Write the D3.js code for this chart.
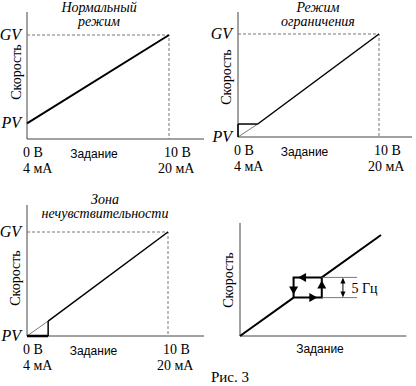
<!DOCTYPE html>
<html>
<head>
<meta charset="utf-8">
<script src="https://cdn.jsdelivr.net/npm/d3@7"></script>
<style>
  body { margin: 0; background: #fff; }
  svg { display: block; }
</style>
</head>
<body>
<svg id="chart" width="416" height="386"></svg>
<script>
// data, in units of setting (0..10 V) and speed (% of GV)
const xLabelsTop = ["0 В", "10 В"];
const xLabelsBottom = ["4 мА", "20 мА"];
const yLabels = ["PV", "GV"];
const titles = [["Нормальный", "режим"], ["Режим", "ограничения"], ["Зона", "нечувствительности"]];

const normalLine = [[0, 15], [10, 100]];

const limitThin = [[0, 0], [1.4, 12.6]];
const limitLine = [[1.4, 12.6], [10, 100]];
const limitBox = [[0, 12.6], [1.4, 12.6]];

const deadThin = [[0, 0], [1.5, 14.4]];
const deadLine = [[1.5, 14.4], [10, 100]];
const deadFloor = [[0, 0], [1.5, 0]];
const deadStep = [[1.5, 0], [1.5, 14.4]];

// hysteresis panel, setting and speed both 0..100
const hystLow = [[0, 0], [38, 38]];
const hystHigh = [[58, 58], [100, 100]];
const hystLoop = [[58, 58], [38, 58], [38, 38], [58, 38], [58, 58]];
const hystStep = "5 Гц";

const SERIF = "'Liberation Serif', 'DejaVu Serif', serif";
const SANS = "'Liberation Sans', Arial, sans-serif";

const svg = d3.select("#chart");

function panel(x0, x10, xEnd, y0, yGV, yTop) {
  let g = svg.append("g");
  let x = d3.scaleLinear().domain([0, 10]).range([x0, x10]);
  let y = d3.scaleLinear().domain([0, 100]).range([y0, yGV]);
  // axes
  g.append("line").attr("x1", x0).attr("x2", xEnd).attr("y1", y0).attr("y2", y0)
    .attr("stroke", "#444").attr("stroke-width", 1);
  g.append("line").attr("x1", x0).attr("x2", x0).attr("y1", y0).attr("y2", yTop)
    .attr("stroke", "#444").attr("stroke-width", 1);
  // dashed guides
  g.append("path")
    .attr("d", `M${x(0)},${y(100)}H${x(10)}V${y(0)}`)
    .attr("fill", "none").attr("stroke", "#777").attr("stroke-width", 1)
    .attr("stroke-dasharray", "3,2");
  return {g, x, y};
}

function line(p, data, w, col) {
  let gen = d3.line().x(d => p.x(d[0])).y(d => p.y(d[1]));
  p.g.append("path").attr("d", gen(data))
    .attr("fill", "none").attr("stroke", col || "#000").attr("stroke-width", w);
}

function labels(p, tIdx, tx, tyTop, sx, sy, pvY) {
  let g = p.g;
  let x0 = p.x(0), x10 = p.x(10), y0 = p.y(0);
  // y labels
  g.append("text").attr("font-family", SERIF).attr("font-style", "italic").attr("font-size", 16)
    .attr("text-anchor", "end").attr("x", x0 - 6).attr("y", pvY + 5).text(yLabels[0]);
  g.append("text").attr("font-family", SERIF).attr("font-style", "italic").attr("font-size", 16)
    .attr("text-anchor", "end").attr("x", x0 - 6).attr("y", p.y(100) + 5).text(yLabels[1]);
  // x labels
  [0, 1].forEach(i => {
    let xx = i == 0 ? x0 - 4 : x10 - 5;
    g.append("text").attr("font-family", SERIF).attr("font-size", 14)
      .attr("x", xx).attr("y", y0 + 18).text(xLabelsTop[i]);
    g.append("text").attr("font-family", SERIF).attr("font-size", 14)
      .attr("x", i == 0 ? xx : xx - 6).attr("y", y0 + 34).text(xLabelsBottom[i]);
  });
  g.append("text").attr("font-family", SANS).attr("font-size", 12).attr("text-anchor", "middle")
    .attr("x", (x0 + x10) / 2 - 4).attr("y", y0 + 19).text("Задание");
  g.append("text").attr("font-family", SERIF).attr("font-size", 14).attr("text-anchor", "middle")
    .attr("transform", `translate(${sx},${sy}) rotate(-90)`).text("Скорость");
  // title
  titles[tIdx].forEach((t, i) => {
    g.append("text").attr("font-family", SERIF).attr("font-style", "italic").attr("font-size", 14)
      .attr("text-anchor", "middle").attr("x", tx).attr("y", tyTop + i * 14).text(t);
  });
}

// panel 1
let p1 = panel(27, 169, 204, 139, 35, 12);
line(p1, normalLine, 2);
labels(p1, 0, 99, 12, 21, 72, p1.y(normalLine[0][1]));

// panel 2
let p2 = panel(238, 379, 412, 137, 34, 12);
line(p2, limitThin, 0.8, "#555");
line(p2, limitBox, 1.5);
p2.g.append("line").attr("x1", p2.x(0)).attr("x2", p2.x(0))
  .attr("y1", p2.y(0)).attr("y2", p2.y(limitBox[0][1])).attr("stroke", "#000").attr("stroke-width", 1.5);
line(p2, limitLine, 1.5);
labels(p2, 1, 318, 12, 231, 77, p2.y(0));

// panel 3
let p3 = panel(27, 168, 204, 336, 232, 205);
line(p3, deadThin, 0.8, "#555");
line(p3, deadFloor, 2.5);
line(p3, deadStep, 1.5);
line(p3, deadLine, 1.5);
labels(p3, 2, 105, 204, 20, 278, p3.y(0));

// panel 4: hysteresis
let g4 = svg.append("g");
let x4 = d3.scaleLinear().domain([0, 100]).range([240, 381]);
let y4 = d3.scaleLinear().domain([0, 100]).range([336, 235]);
g4.append("line").attr("x1", x4(0)).attr("x2", x4(118)).attr("y1", y4(0)).attr("y2", y4(0))
  .attr("stroke", "#444");
g4.append("line").attr("x1", x4(0)).attr("x2", x4(0)).attr("y1", y4(0)).attr("y2", y4(112))
  .attr("stroke", "#444");
let gen4 = d3.line().x(d => x4(d[0])).y(d => y4(d[1]));
[hystLow, hystHigh].forEach(d => {
  g4.append("path").attr("d", gen4(d)).attr("fill", "none").attr("stroke", "#000").attr("stroke-width", 2);
});
g4.append("path").attr("d", gen4(hystLoop)).attr("fill", "none").attr("stroke", "#000").attr("stroke-width", 2);

function arrow(g, cx, cy, dir, len, half) {
  // dir: angle in degrees, 0 = pointing right
  let a = dir * Math.PI / 180;
  let tip = [cx + Math.cos(a) * len / 2, cy + Math.sin(a) * len / 2];
  let bx = cx - Math.cos(a) * len / 2, by = cy - Math.sin(a) * len / 2;
  let px = -Math.sin(a) * half, py = Math.cos(a) * half;
  g.append("path").attr("d", `M${tip[0]},${tip[1]}L${bx + px},${by + py}L${bx - px},${by - py}Z`)
    .attr("fill", "#000");
}
// loop arrows, positioned along the loop edges
arrow(g4, x4(44), y4(58), 180, 8, 4.5);
arrow(g4, x4(38), y4(45), 90, 8, 4.5);
arrow(g4, x4(52), y4(38), 0, 8, 4.5);
arrow(g4, x4(58), y4(51), -90, 8, 4.5);

// 5 Hz dimension
[58, 38].forEach(v => {
  g4.append("line").attr("x1", x4(58)).attr("x2", x4(83)).attr("y1", y4(v)).attr("y2", y4(v))
    .attr("stroke", "#555").attr("stroke-width", 0.8);
});
let dimX = x4(73);
g4.append("line").attr("x1", dimX).attr("x2", dimX).attr("y1", y4(58) + 3).attr("y2", y4(38) - 3)
  .attr("stroke", "#000").attr("stroke-width", 1);
arrow(g4, dimX, y4(58) + 3, -90, 6, 2.5);
arrow(g4, dimX, y4(38) - 3, 90, 6, 2.5);
g4.append("text").attr("font-family", SERIF).attr("font-size", 14)
  .attr("x", x4(79)).attr("y", (y4(58) + y4(38)) / 2 + 5).text(hystStep);

g4.append("text").attr("font-family", SANS).attr("font-size", 12).attr("text-anchor", "middle")
  .attr("x", 320).attr("y", 353).text("Задание");
g4.append("text").attr("font-family", SERIF).attr("font-size", 14).attr("text-anchor", "middle")
  .attr("transform", `translate(233,280) rotate(-90)`).text("Скорость");

svg.append("text").attr("font-family", SERIF).attr("font-size", 15)
  .attr("x", 211).attr("y", 382).text("Рис. 3");
</script>
</body>
</html>
